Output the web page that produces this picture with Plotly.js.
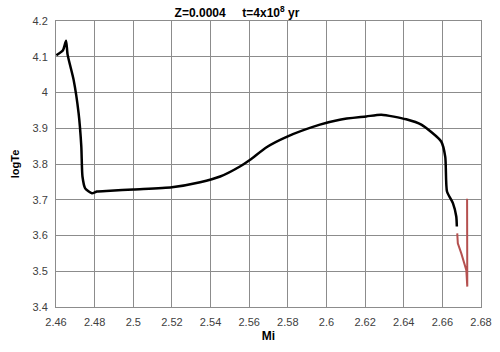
<!DOCTYPE html>
<html><head><meta charset="utf-8">
<script src="https://cdn.plot.ly/plotly-3.0.1.min.js"></script>
<style>html,body{margin:0;padding:0;background:#fff}</style>
</head><body><div id="chart" style="width:500px;height:352px"></div>
<script>
const blackMi = [2.4602, 2.4636, 2.4652, 2.4660, 2.4691, 2.4717, 2.4731, 2.4737, 2.4751, 2.4786, 2.4812, 2.4881, 2.5000, 2.5200, 2.5346, 2.5450, 2.5552, 2.5605, 2.5690, 2.5794, 2.5966, 2.6069, 2.6206, 2.6284, 2.6413, 2.6491, 2.6594, 2.6615, 2.6624, 2.6655, 2.6672, 2.6675];
const blackLogTe = [4.104, 4.118, 4.145, 4.106, 4.036, 3.942, 3.849, 3.765, 3.732, 3.718, 3.723, 3.725, 3.729, 3.735, 3.749, 3.765, 3.793, 3.812, 3.847, 3.876, 3.910, 3.924, 3.933, 3.938, 3.925, 3.910, 3.863, 3.820, 3.723, 3.690, 3.653, 3.625];
const redMi = [2.6677, 2.6680, 2.6698, 2.6715, 2.6724, 2.6729, 2.6728];
const redLogTe = [3.606, 3.578, 3.550, 3.522, 3.503, 3.457, 3.703];
const xTicks = [2.46, 2.48, 2.5, 2.52, 2.54, 2.56, 2.58, 2.6, 2.62, 2.64, 2.66, 2.68];
const xTickText = ['2.46','2.48','2.5','2.52','2.54','2.56','2.58','2.6','2.62','2.64','2.66','2.68'];
const yTicks = [3.4, 3.5, 3.6, 3.7, 3.8, 3.9, 4.0, 4.1, 4.2];
const yTickText = ['3.4','3.5','3.6','3.7','3.8','3.9','4','4.1','4.2'];

const traces = [
  {x: blackMi, y: blackLogTe, mode: 'lines', line: {color: '#000000', width: 2.5, shape: 'spline', smoothing: 0.6}, hoverinfo: 'skip'},
  {x: redMi, y: redLogTe, mode: 'lines', line: {color: '#b5504f', width: 2}, hoverinfo: 'skip'}
];
const font = {family: 'Liberation Sans, Arial, sans-serif', color: '#333'};
const axisCommon = {
  tickmode: 'array', showgrid: true, gridcolor: 'rgb(140,140,140)', gridwidth: 1,
  showline: true, linecolor: 'rgb(140,140,140)', linewidth: 1, mirror: true, zeroline: false,
  ticks: '', tickfont: {size: 11, color: '#404040'}, ticklabelstandoff: 5
};
const layout = {
  width: 500, height: 352,
  margin: {l: 56, r: 19, t: 21, b: 45},
  paper_bgcolor: '#fff', plot_bgcolor: '#fff',
  showlegend: false,
  font: font,
  title: {text: '<b>Z=0.0004&nbsp;&nbsp;&nbsp;&nbsp;&nbsp;t=4x10<sup>8</sup> yr</b>', x: 0.474, xref: 'container', xanchor: 'center', y: 0.975, yref: 'container', yanchor: 'top', font: {family: 'Liberation Sans, Arial, sans-serif', size: 12, color: '#000'}},
  xaxis: Object.assign({}, axisCommon, {
    range: [2.46, 2.68], tickvals: xTicks, ticktext: xTickText,
    title: {text: '<b>Mi</b>', font: {size: 12, color: '#000'}, standoff: 4}
  }),
  yaxis: Object.assign({}, axisCommon, {
    range: [3.4, 4.2], tickvals: yTicks, ticktext: yTickText,
    title: {text: '<b>logTe</b>', font: {size: 11, color: '#000'}, standoff: 10}
  })
};
Plotly.newPlot('chart', traces, layout, {staticPlot: true, displayModeBar: false});
</script>
</body></html>
